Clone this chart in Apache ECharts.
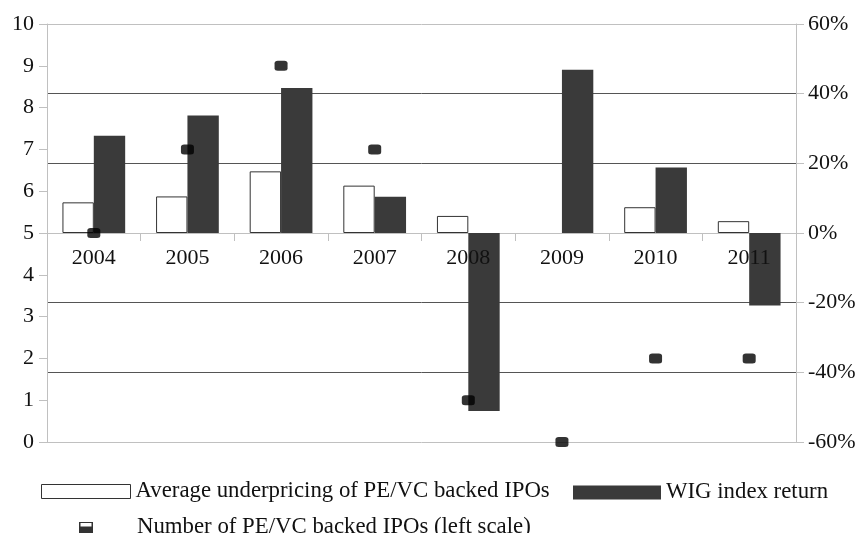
<!DOCTYPE html>
<html>
<head>
<meta charset="utf-8">
<script src="https://cdn.jsdelivr.net/npm/echarts@6/dist/echarts.min.js"></script>
<style>
  html, body { margin: 0; padding: 0; background: #fff; }
  #main { width: 860px; height: 533px; }
</style>
</head>
<body>
<div id="main"></div>
<script>
  var years = ['2004', '2005', '2006', '2007', '2008', '2009', '2010', '2011'];
  // right scale, %
  var underpricing = [8.8, 10.5, 17.7, 13.6, 4.9, null, 7.4, 3.4];
  var wigReturn = [27.9, 33.7, 41.6, 10.4, -51.1, 46.9, 18.8, -20.8];
  // left scale
  var ipoCount = [5, 7, 9, 7, 1, 0, 2, 2];

  var leftTicks = { min: 0, max: 10, step: 1 };
  var rightTicks = { min: -60, max: 60, step: 20 };

  var serif = "'Liberation Serif', 'Times New Roman', serif";
  var axisGrey = '#c0c0c0';
  var dark = '#3a3a3a';

  var markerIcon = 'image://data:image/svg+xml;utf8,' + encodeURIComponent(
    '<svg xmlns="http://www.w3.org/2000/svg" width="14" height="12">' +
    '<rect x="0.5" y="0.5" width="13" height="11" fill="#000" stroke="#000"/>' +
    '<rect x="1.5" y="1.5" width="11" height="3.5" fill="#fff"/></svg>');

  var chart = echarts.init(document.getElementById('main'));
  var option = {
    animation: false,
    textStyle: { fontFamily: serif },
    grid: { left: 47, right: 64, top: 24, bottom: 91 },
    legend: [
      {
        left: 36, top: 475,
        itemWidth: 89, itemHeight: 14,
        textStyle: { fontFamily: serif, fontSize: 22.8, color: '#111' },
        data: [{ name: 'Average underpricing of PE/VC backed IPOs', icon: 'rect',
                 itemStyle: { color: '#fff', borderColor: '#333', borderWidth: 1 } }]
      },
      {
        left: 568, top: 476,
        itemWidth: 88, itemHeight: 14,
        textStyle: { fontFamily: serif, fontSize: 22.8, color: '#111' },
        data: [{ name: 'WIG index return', icon: 'rect', itemStyle: { color: dark } }]
      },
      {
        left: 74, top: 511,
        itemWidth: 14, itemHeight: 12,
        textStyle: { fontFamily: serif, fontSize: 22.8, color: '#111', padding: [0, 0, 0, 39] },
        data: [{ name: 'Number of PE/VC backed IPOs (left scale)', icon: markerIcon }]
      }
    ],
    xAxis: [
      {
        // zero line with ticks
        type: 'category',
        data: years,
        boundaryGap: true,
        axisLine: { onZero: true, onZeroAxisIndex: 1, lineStyle: { color: axisGrey } },
        axisTick: { show: true, interval: 0, length: 8, lineStyle: { color: axisGrey } },
        axisLabel: { show: false },
        splitLine: { show: false }
      },
      {
        // year labels just under the zero line, drawn over the bars
        type: 'category',
        data: years,
        position: 'bottom',
        offset: -209,
        z: 10,
        boundaryGap: true,
        axisLine: { show: false, onZero: false },
        axisTick: { show: false },
        axisLabel: { fontFamily: serif, fontSize: 22, color: '#111', margin: 14, interval: 0 },
        splitLine: { show: false }
      }
    ],
    yAxis: [
      {
        type: 'value',
        position: 'left',
        min: leftTicks.min, max: leftTicks.max, interval: leftTicks.step,
        axisLine: { show: true, lineStyle: { color: axisGrey } },
        axisTick: { show: true, length: 8, lineStyle: { color: axisGrey } },
        axisLabel: { fontFamily: serif, fontSize: 22, color: '#111', margin: 13 },
        splitLine: { show: false }
      },
      {
        type: 'value',
        position: 'right',
        min: rightTicks.min, max: rightTicks.max, interval: rightTicks.step,
        axisLine: { show: true, lineStyle: { color: axisGrey } },
        axisTick: { show: true, length: 8, lineStyle: { color: axisGrey } },
        axisLabel: { fontFamily: serif, fontSize: 22, color: '#111', margin: 12,
                     formatter: '{value}%' },
        splitLine: {
          show: true,
          lineStyle: {
            width: 1,
            color: [axisGrey, '#555', '#555', axisGrey, '#555', '#555', axisGrey]
          }
        }
      }
    ],
    series: [
      {
        name: 'Average underpricing of PE/VC backed IPOs',
        type: 'bar',
        yAxisIndex: 1,
        barGap: '0%',
        barCategoryGap: '33%',
        data: underpricing,
        itemStyle: { color: '#fff', borderColor: '#333', borderWidth: 1 }
      },
      {
        name: 'WIG index return',
        type: 'bar',
        yAxisIndex: 1,
        data: wigReturn,
        itemStyle: { color: dark }
      },
      {
        name: 'Number of PE/VC backed IPOs (left scale)',
        type: 'scatter',
        yAxisIndex: 0,
        symbol: 'roundRect',
        symbolSize: [13, 10],
        data: ipoCount,
        itemStyle: { color: '#000' },
        z: 5
      }
    ]
  };
  chart.setOption(option);
  window.addEventListener('resize', function () { chart.resize(); });
</script>
</body>
</html>
